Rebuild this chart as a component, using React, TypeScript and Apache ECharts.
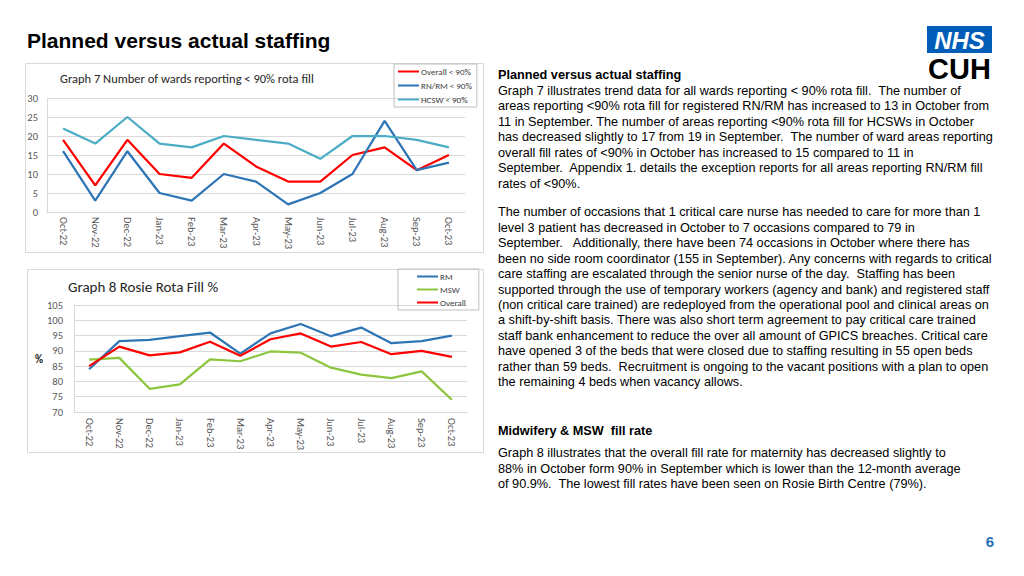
import React, { useEffect, useRef } from "react";
import * as echarts from "echarts";

const months = ["Oct-22", "Nov-22", "Dec-22", "Jan-23", "Feb-23", "Mar-23", "Apr-23", "May-23", "Jun-23", "Jul-23", "Aug-23", "Sep-23", "Oct-23"];

// Graph 7: number of wards reporting < 90% rota fill
const overallUnder90 = [19, 7, 19, 10, 9, 18, 12, 8, 8, 15, 17, 11, 15];
const rnrmUnder90 = [16, 3, 16, 5, 3, 10, 8, 2, 5, 10, 24, 11, 13];
const hcswUnder90 = [22, 18, 25, 18, 17, 20, 19, 18, 14, 20, 20, 19, 17];

// Graph 8: Rosie rota fill %
const rmFill = [84, 93.2, 93.6, 94.8, 96, 89.1, 95.7, 98.8, 94.8, 97.6, 92.5, 93.2, 95];
const mswFill = [87.1, 87.7, 77.6, 79, 87.2, 86.6, 89.8, 89.4, 84.5, 82.2, 81.1, 83.3, 74];
const overallFill = [85, 91.4, 88.5, 89.5, 93, 88.4, 93.8, 95.7, 91.4, 92.9, 88.9, 90, 88];

const para1 = [
  "Graph 7 illustrates trend data for all wards reporting < 90% rota fill.  The number of",
  "areas reporting <90% rota fill for registered RN/RM has increased to 13 in October from",
  "11 in September. The number of areas reporting <90% rota fill for HCSWs in October",
  "has decreased slightly to 17 from 19 in September.  The number of ward areas reporting",
  "overall fill rates of <90% in October has increased to 15 compared to 11 in",
  "September.  Appendix 1. details the exception reports for all areas reporting RN/RM fill",
  "rates of <90%.",
];
const para2 = [
  "The number of occasions that 1 critical care nurse has needed to care for more than 1",
  "level 3 patient has decreased in October to 7 occasions compared to 79 in",
  "September.   Additionally, there have been 74 occasions in October where there has",
  "been no side room coordinator (155 in September). Any concerns with regards to critical",
  "care staffing are escalated through the senior nurse of the day.  Staffing has been",
  "supported through the use of temporary workers (agency and bank) and registered staff",
  "(non critical care trained) are redeployed from the operational pool and clinical areas on",
  "a shift-by-shift basis. There was also short term agreement to pay critical care trained",
  "staff bank enhancement to reduce the over all amount of GPICS breaches. Critical care",
  "have opened 3 of the beds that were closed due to staffing resulting in 55 open beds",
  "rather than 59 beds.  Recruitment is ongoing to the vacant positions with a plan to open",
  "the remaining 4 beds when vacancy allows.",
];
const para3 = [
  "Graph 8 illustrates that the overall fill rate for maternity has decreased slightly to",
  "88% in October form 90% in September which is lower than the 12-month average",
  "of 90.9%.  The lowest fill rates have been seen on Rosie Birth Centre (79%).",
];

const CAL = "Carlito, Lato, 'Open Sans', sans-serif";
const ARIAL = "'Liberation Sans', Arial, sans-serif";
const RED = "#ff0000";
const DBLUE = "#2e75b6";
const LBLUE = "#4bacc6";
const GREEN = "#8cc63f";
const LH = 15.45;
const FS = 12.7;

export default function App() {
  const ref = useRef<HTMLDivElement>(null);
  useEffect(() => {
    if (!ref.current) return;
    const chart = echarts.init(ref.current, undefined, { renderer: "svg" });
    const axisLabel = { color: "#595959", fontFamily: CAL, fontSize: 10.5 };
    const line = (name: string, data: number[], color: string, idx: number) => ({
      type: "line",
      name,
      data,
      xAxisIndex: idx,
      yAxisIndex: idx,
      symbol: "none",
      lineStyle: { color, width: 2.25 },
      itemStyle: { color },
    });
    const para = (lines: string[], y: number, bold = false) => ({
      type: "text",
      x: 498,
      y: y - LH / 2,
      style: {
        text: lines.join("\n"),
        font: `${bold ? "bold " : ""}${FS}px ${ARIAL}`,
        fill: "#000",
        lineHeight: LH,
        verticalAlign: "top",
        align: "left",
      },
    });
    chart.setOption({
      animation: false,
      backgroundColor: "#ffffff",
      grid: [
        { left: 47, top: 98, width: 418, height: 114, containLabel: false },
        { left: 74, top: 305, width: 393, height: 107, containLabel: false },
      ],
      xAxis: [
        {
          type: "category", gridIndex: 0, data: months, boundaryGap: true,
          axisLine: { lineStyle: { color: "#d9d9d9" } }, axisTick: { show: false },
          axisLabel: { ...axisLabel, rotate: -90, margin: 5, interval: 0 },
        },
        {
          type: "category", gridIndex: 1, data: months, boundaryGap: true,
          axisLine: { lineStyle: { color: "#d9d9d9" } }, axisTick: { show: false },
          axisLabel: { ...axisLabel, rotate: -90, margin: 6, interval: 0 },
        },
      ],
      yAxis: [
        {
          type: "value", gridIndex: 0, min: 0, max: 30, interval: 5,
          axisLine: { show: true, lineStyle: { color: "#d9d9d9" } }, axisTick: { show: false },
          splitLine: { lineStyle: { color: "#d9d9d9" } },
          axisLabel: { ...axisLabel, margin: 9 },
        },
        {
          type: "value", gridIndex: 1, min: 70, max: 105, interval: 5,
          axisLine: { show: true, lineStyle: { color: "#d9d9d9" } }, axisTick: { show: false },
          splitLine: { lineStyle: { color: "#d9d9d9" } },
          axisLabel: { ...axisLabel, margin: 11 },
        },
      ],
      legend: [
        {
          data: ["Overall < 90%", "RN/RM < 90%", "HCSW < 90%"],
          orient: "vertical", left: 394, top: 64, icon: "rect", itemWidth: 21, itemHeight: 2,
          itemGap: 3, padding: [2, 5, 2, 4], borderColor: "#bfbfbf", borderWidth: 1,
          textStyle: { fontFamily: CAL, fontSize: 9, color: "#404040", lineHeight: 11, padding: [0, 0, 0, -3] },
        },
        {
          data: ["RM", "MSW", "Overall"],
          orient: "vertical", left: 398, top: 269, icon: "rect", itemWidth: 21, itemHeight: 2,
          itemGap: 2, padding: [2, 13, 2, 19], borderColor: "#bfbfbf", borderWidth: 1,
          textStyle: { fontFamily: CAL, fontSize: 9, color: "#404040", lineHeight: 11, padding: [0, 0, 0, -3] },
        },
      ],
      series: [
        line("Overall < 90%", overallUnder90, RED, 0),
        line("RN/RM < 90%", rnrmUnder90, DBLUE, 0),
        line("HCSW < 90%", hcswUnder90, LBLUE, 0),
        line("RM", rmFill, DBLUE, 1),
        line("MSW", mswFill, GREEN, 1),
        line("Overall", overallFill, RED, 1),
      ],
      graphic: [
        { type: "rect", shape: { x: 25.5, y: 63.5, width: 458, height: 189 }, style: { fill: "none", stroke: "#d9d9d9", lineWidth: 1 }, z: -1 },
        { type: "rect", shape: { x: 27.5, y: 269.5, width: 456, height: 183 }, style: { fill: "none", stroke: "#d9d9d9", lineWidth: 1 }, z: -1 },
        { type: "text", x: 27, y: 40, style: { text: "Planned versus actual staffing", font: `bold 21px ${ARIAL}`, fill: "#000", verticalAlign: "middle" } },
        { type: "text", x: 60, y: 78, style: { text: "Graph 7 Number of wards reporting < 90% rota fill", font: `12.5px ${CAL}`, fill: "#262626", verticalAlign: "middle" } },
        { type: "text", x: 68, y: 287, style: { text: "Graph 8 Rosie Rota Fill %", font: `15px ${CAL}`, fill: "#262626", verticalAlign: "middle" } },
        { type: "text", x: 39, y: 359, style: { text: "%", font: `bold 11px ${CAL}`, fill: "#262626", verticalAlign: "middle", align: "center" } },
        para(["Planned versus actual staffing"], 75, true),
        para(para1, 91),
        para(para2, 212.3),
        para(["Midwifery & MSW  fill rate"], 430.7, true),
        para(para3, 453.3),
        { type: "rect", shape: { x: 927, y: 26, width: 65, height: 27 }, style: { fill: "#005eb8" } },
        { type: "text", x: 959.5, y: 40, style: { text: "NHS", font: `italic bold 24px ${ARIAL}`, fill: "#fff", align: "center", verticalAlign: "middle" } },
        { type: "text", x: 959.5, y: 69, style: { text: "CUH", font: `bold 29px ${ARIAL}`, fill: "#000", align: "center", verticalAlign: "middle" } },
        { type: "text", x: 990, y: 541, style: { text: "6", font: `bold 15px ${ARIAL}`, fill: "#1f6fb5", align: "center", verticalAlign: "middle" } },
      ],
    });
    return () => chart.dispose();
  }, []);
  return <div ref={ref} style={{ position: "fixed", left: 0, top: 0, width: 1024, height: 576 }} />;
}
